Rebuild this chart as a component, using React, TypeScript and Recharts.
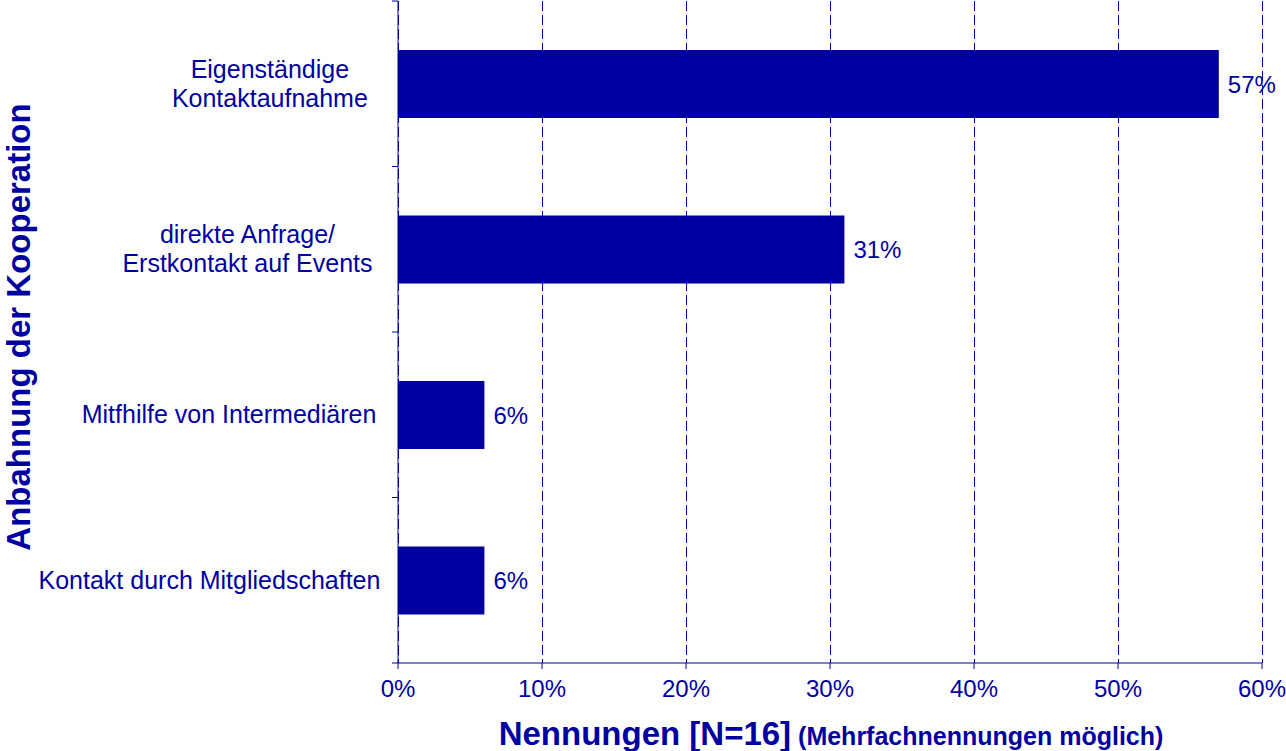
import { Bar, BarChart, CartesianGrid, Label, LabelList, XAxis, YAxis } from 'recharts';

const navy = '#0000a0';
const font = "'Liberation Sans', Arial, Helvetica, sans-serif";

// categories top to bottom, line breaks as in the original labels
const categories = [
  'Eigenständige\nKontaktaufnahme',
  'direkte Anfrage/\nErstkontakt auf Events',
  'Mitfhilfe von Intermediären',
  'Kontakt durch Mitgliedschaften',
];
const shares = [57, 31, 6, 6];
const percentTicks = [0, 10, 20, 30, 40, 50, 60];

const rows = categories.map((name, i) => ({ name, value: shares[i] }));

const CHART_W = 1286;
const CHART_H = 751;
const MARGIN = { top: 1, right: 24, bottom: 0, left: 0 };
const X_AXIS_H = 88;
const Y_AXIS_W = 398;
const band = (CHART_H - MARGIN.top - MARGIN.bottom - X_AXIS_H) / categories.length;

let measureCtx: CanvasRenderingContext2D | null = null;
function textWidth(s: string) {
  if (!measureCtx) {
    measureCtx = document.createElement('canvas').getContext('2d');
    if (measureCtx) measureCtx.font = `25px ${font}`;
  }
  return measureCtx ? measureCtx.measureText(s).width : s.length * 11;
}

// multi-line category label plus the small boundary ticks between categories
function CategoryTick({ x, y, payload, index }: any) {
  const lines = String(payload.value).split('\n');
  const block = Math.max(...lines.map(textWidth));
  const cx = x - block * 0.414;
  const axisX = Y_AXIS_W;
  return (
    <g>
      {index === 0 && <line x1={axisX - 6} x2={axisX} y1={y - band / 2} y2={y - band / 2} stroke={navy} />}
      <line x1={axisX - 6} x2={axisX} y1={y + band / 2} y2={y + band / 2} stroke={navy} />
      {lines.map((line, i) => (
        <text
          key={i}
          x={cx}
          y={y + 8.5 + (i - (lines.length - 1) / 2) * 29}
          textAnchor="middle"
          fill={navy}
          fontSize={25}
          fontFamily={font}
        >
          {line}
        </text>
      ))}
    </g>
  );
}

function XTitle({ viewBox }: any) {
  return (
    <text x={viewBox.x + viewBox.width / 2 + 1} y={viewBox.y + 82} textAnchor="middle" fill={navy} fontFamily={font} fontWeight="bold">
      <tspan fontSize={33}>Nennungen [N=16]</tspan>
      <tspan fontSize={25}> (Mehrfachnennungen möglich)</tspan>
    </text>
  );
}

function YTitle({ viewBox }: any) {
  const cy = viewBox.y + viewBox.height / 2 - 5;
  return (
    <text
      x={30}
      y={cy}
      transform={`rotate(-90, 30, ${cy})`}
      textAnchor="middle"
      fill={navy}
      fontFamily={font}
      fontWeight="bold"
      fontSize={33}
    >
      Anbahnung der Kooperation
    </text>
  );
}

export default function App() {
  return (
    <div style={{ position: 'absolute', left: 0, top: 0, background: '#fff' }}>
      <BarChart width={CHART_W} height={CHART_H} data={rows} layout="vertical" margin={MARGIN}>
        <CartesianGrid horizontal={false} stroke={navy} strokeDasharray="10 4" shapeRendering="crispEdges" />
        <XAxis
          type="number"
          domain={[0, 60]}
          ticks={percentTicks}
          tickFormatter={(v) => `${v}%`}
          height={X_AXIS_H}
          tickSize={6}
          tickMargin={11}
          stroke={navy}
          tick={{ fill: navy, fontSize: 24, fontFamily: font }}
          interval={0}
        >
          <Label content={XTitle} />
        </XAxis>
        <YAxis
          type="category"
          dataKey="name"
          width={Y_AXIS_W}
          tickLine={false}
          tickSize={0}
          tickMargin={47}
          stroke={navy}
          tick={<CategoryTick />}
          interval={0}
        >
          <Label content={YTitle} />
        </YAxis>
        <Bar dataKey="value" fill={navy} barSize={68} isAnimationActive={false}>
          <LabelList
            dataKey="value"
            position="right"
            offset={9}
            formatter={(v: any) => `${v}%`}
            fill={navy}
            fontSize={24}
            fontFamily={font}
          />
        </Bar>
      </BarChart>
    </div>
  );
}
